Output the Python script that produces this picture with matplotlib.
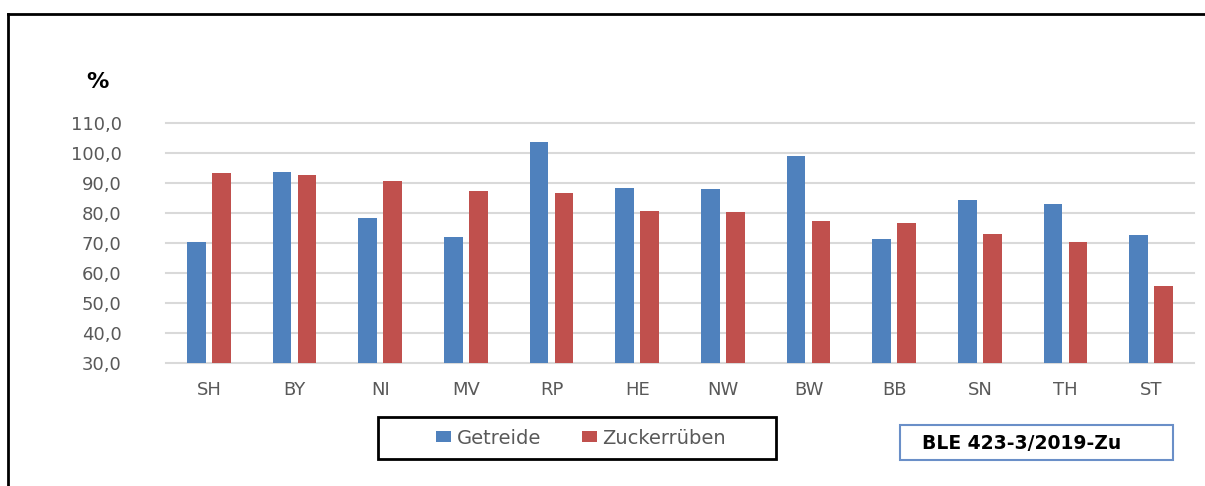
import numpy as np
import matplotlib
matplotlib.use("Agg")
import matplotlib.pyplot as plt
from matplotlib.patches import Rectangle

# Daten
laender = ["SH", "BY", "NI", "MV", "RP", "HE", "NW", "BW", "BB", "SN", "TH", "ST"]
getreide = [70.2, 93.8, 78.3, 71.9, 103.7, 88.4, 87.9, 99.0, 71.3, 84.2, 83.1, 72.6]
zuckerrueben = [93.2, 92.7, 90.7, 87.2, 86.7, 80.8, 80.2, 77.2, 76.6, 73.1, 70.2, 55.6]
yticks = [30, 40, 50, 60, 70, 80, 90, 100, 110]

blau = "#4F81BD"
rot = "#C0504D"
grau = "#595959"

plt.rcParams['font.family'] = ['DejaVu Sans']

W, H = 1205, 486
fig = plt.figure(figsize=(W / 100, H / 100), dpi=100)

# Rahmen um die gesamte Grafik
fig.add_artist(plt.Line2D([8 / W, 8 / W], [0, 1 - 14 / H], color="black", lw=2,
                          transform=fig.transFigure))
fig.add_artist(plt.Line2D([8 / W, 1], [1 - 14 / H, 1 - 14 / H], color="black", lw=2,
                          transform=fig.transFigure))

ax = fig.add_axes([166 / W, 1 - 363 / H, (1194 - 166) / W, (363 - 123) / H])
x = np.arange(len(laender))
bw = 0.22
off = 0.146
ax.bar(x - off, np.array(getreide) - 30, bw, bottom=30, color=blau, zorder=3,
       label="Getreide")
ax.bar(x + off, np.array(zuckerrueben) - 30, bw, bottom=30, color=rot, zorder=3,
       label="Zuckerrüben")

ax.set_xlim(-0.5, len(laender) - 0.5)
ax.set_ylim(30, 110)
ax.set_yticks(yticks)
ax.set_yticklabels([f"{v:.1f}".replace(".", ",") for v in yticks])
ax.set_xticks(x)
ax.set_xticklabels(laender)
ax.tick_params(axis="y", length=0, pad=32, labelsize=13, labelcolor=grau)
ax.tick_params(axis="x", length=0, pad=13, labelsize=13, labelcolor=grau)
ax.grid(axis="y", color="#D9D9D9", lw=1.5, zorder=0)
for gl in ax.get_ygridlines():
    gl.set_clip_on(False)
for s in ax.spines.values():
    s.set_visible(False)

fig.text(97 / W, 1 - 82 / H, "%", fontsize=16, fontweight="bold", ha="center",
         va="center")

# Legende
fig.add_artist(Rectangle((378 / W, 1 - 459 / H), 398 / W, 42 / H, fill=False,
                         edgecolor="black", lw=2, transform=fig.transFigure))
fig.legend(loc="center", bbox_to_anchor=(581 / W, 1 - 438 / H), ncol=2,
           frameon=False, fontsize=14, labelcolor=grau, handlelength=0.77,
           handleheight=0.51, handletextpad=0.3, columnspacing=2.1)

# Quellenangabe
fig.add_artist(Rectangle((900 / W, 1 - 460 / H), 273 / W, 35 / H, fill=False,
                         edgecolor="#6A8FC8", lw=1.5, transform=fig.transFigure))
fig.text(922 / W, 1 - 443 / H, "BLE 423-3/2019-Zu", fontsize=13.5,
         fontweight="bold", ha="left", va="center")

fig.savefig("out.png", dpi=100)
